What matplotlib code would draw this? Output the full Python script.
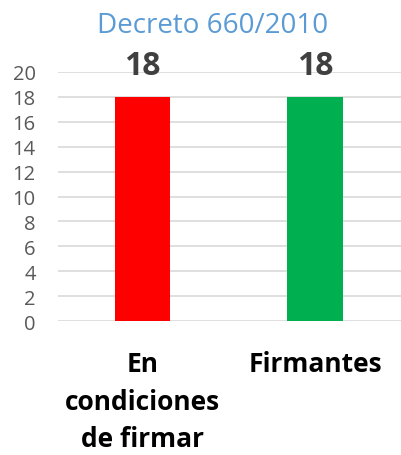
import matplotlib
matplotlib.use("Agg")
from matplotlib import pyplot as plt
import numpy as np

categories = ["En\ncondiciones\nde firmar", "Firmantes"]
values = [18, 18]
colors = ["#FF0000", "#00B050"]
title = "Decreto 660/2010"

plt.rcParams['font.family'] = ['Open Sans', 'DejaVu Sans']

fig = plt.figure(figsize=(4.01, 4.56), dpi=100)
ax = fig.add_axes([58 / 401, 1 - 322.3 / 456, (403 - 58) / 401, (322.3 - 72.7) / 456])

x = np.arange(len(categories))
bars = ax.bar(x, values, 0.32, color=colors, zorder=3)

ax.set_xlim(-0.49, 1.51)
ax.set_ylim(0, 20)
ax.set_yticks(np.arange(0, 21, 2))
ax.tick_params(axis='y', length=0, pad=16, labelsize=14.5, labelcolor="#595959")
ax.set_xticks(x)
ax.set_xticklabels(categories, fontsize=19, fontweight='bold', linespacing=1.5,
                   va='top')
ax.tick_params(axis='x', length=0, pad=21)
ax.grid(axis='y', color="#D9D9D9", linewidth=1.2, zorder=0)
for s in ax.spines.values():
    s.set_visible(False)

for rect, v in zip(bars, values):
    ax.text(rect.get_x() + rect.get_width() / 2, v + 1.15, str(v),
            ha='center', va='bottom', fontsize=23, fontweight='bold', color="#404040")

fig.text(213 / 401, 1 - 33 / 456, title, ha='center', va='baseline',
         fontsize=20, color="#5B9BD5")

fig.savefig("out.png", dpi=100)
